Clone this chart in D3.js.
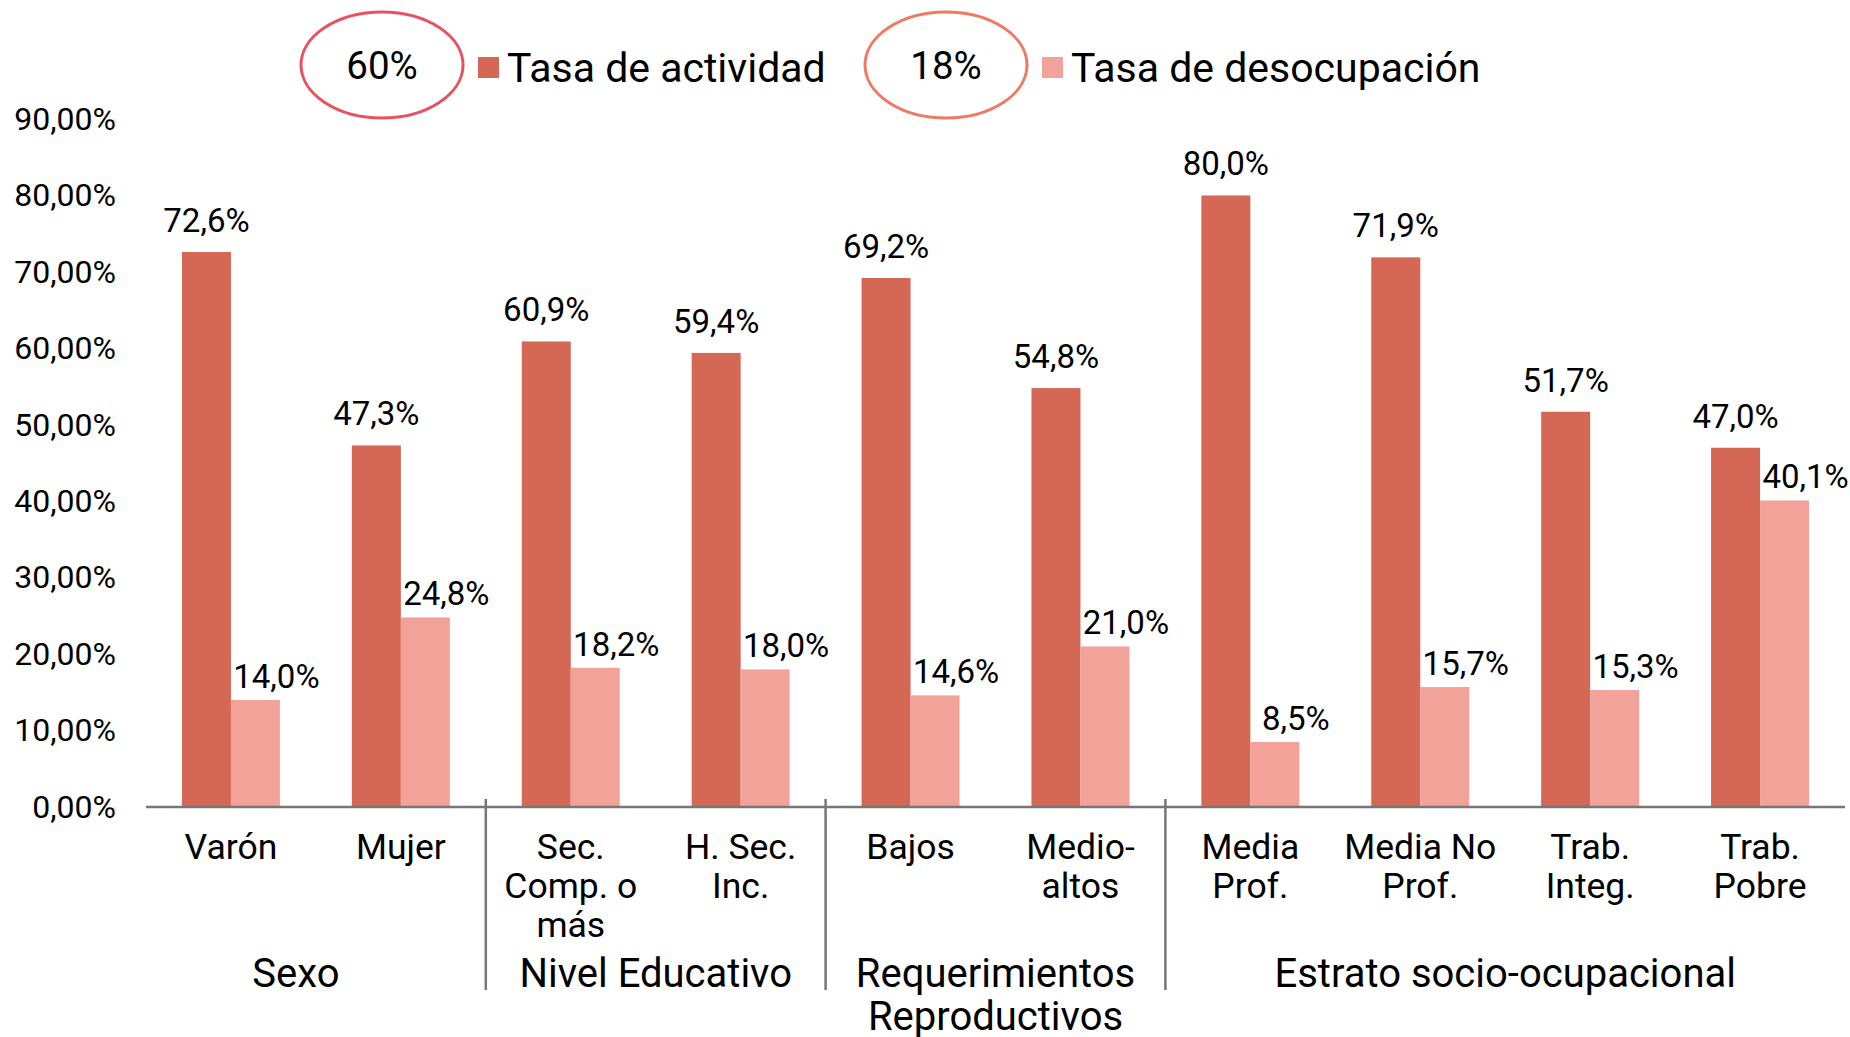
<!DOCTYPE html>
<html>
<head>
<meta charset="utf-8">
<script src="https://cdn.jsdelivr.net/npm/d3@7"></script>
<style>
  html, body { margin: 0; padding: 0; background: #fff; overflow: hidden; }
  svg { display: block; }
  svg text { font-family: "Century Gothic", "URW Gothic", "Roboto", sans-serif; fill: #000; }
</style>
</head>
<body>
<svg id="chart"></svg>
<script>
const categories = [
  ["Varón"], ["Mujer"], ["Sec.", "Comp. o", "más"], ["H. Sec.", "Inc."],
  ["Bajos"], ["Medio-", "altos"], ["Media", "Prof."], ["Media No", "Prof."],
  ["Trab.", "Integ."], ["Trab.", "Pobre"]
];
const groupNames = [["Sexo"], ["Nivel Educativo"], ["Requerimientos", "Reproductivos"], ["Estrato socio-ocupacional"]];
const groupSizes = [2, 2, 2, 4];
const seriesNames = ["Tasa de actividad", "Tasa de desocupación"];
const actividad = [72.6, 47.3, 60.9, 59.4, 69.2, 54.8, 80.0, 71.9, 51.7, 47.0];
const desocupacion = [14.0, 24.8, 18.2, 18.0, 14.6, 21.0, 8.5, 15.7, 15.3, 40.1];
const badges = ["60%", "18%"];
const yTicks = [0, 10, 20, 30, 40, 50, 60, 70, 80, 90];

const WIDTH = 1850;
const HEIGHT = 1037;
const margin = { top: 119, right: 5, bottom: 230, left: 146 };
const colors = ["#D56755", "#F3A29A"];
const badgeColors = ["#E8525E", "#EF7A64"];
const gray = "#767676";

const locale = d3.formatLocale({ decimal: ",", thousands: ".", grouping: [3], currency: ["", "€"] });
const fmtTick = locale.format(".2f");
const fmtVal = locale.format(".1f");

const svg = d3.select("#chart").attr("width", WIDTH).attr("height", HEIGHT);

const innerWidth = WIDTH - margin.left - margin.right;
const innerHeight = HEIGHT - margin.top - margin.bottom;

const chart = svg.append("g").attr("transform", `translate(${margin.left}, ${margin.top})`);

const idx = d3.range(categories.length);
const xscale = d3.scaleBand().domain(idx).range([0, innerWidth]);
const x1 = d3.scaleBand().domain([0, 1]).range([0, xscale.bandwidth()]).paddingOuter(0.734);
const yscale = d3.scaleLinear().domain([0, 90]).range([innerHeight, 0]);

// y axis: labels only
const yaxis = d3.axisLeft(yscale).tickValues(yTicks).tickSize(0).tickPadding(30)
  .tickFormat((d) => fmtTick(d) + "%");
const yaxisGroup = chart.append("g").call(yaxis);
yaxisGroup.select(".domain").remove();
yaxisGroup.selectAll("text").style("font-size", "32px").attr("fill", "#000")
  .style("font-family", null);

// bars
const rows = idx.map((i) => ({ i, values: [actividad[i], desocupacion[i]] }));
const catG = chart.selectAll(".cat").data(rows).join("g").attr("class", "cat")
  .attr("transform", (d) => `translate(${xscale(d.i)}, 0)`);

catG.selectAll("rect").data((d) => d.values.map((v, s) => ({ v, s }))).join("rect")
  .attr("x", (d) => x1(d.s))
  .attr("y", (d) => yscale(d.v))
  .attr("width", x1.bandwidth())
  .attr("height", (d) => innerHeight - yscale(d.v))
  .attr("fill", (d) => colors[d.s]);

// labels of the second series sit a bit lower and to the right, as in the source
const labelDx = [0, 21];
const labelDy = [20, 12];
catG.selectAll(".val").data((d) => d.values.map((v, s) => ({ v, s }))).join("text")
  .attr("class", "val")
  .attr("x", (d) => x1(d.s) + x1.bandwidth() / 2 + labelDx[d.s])
  .attr("y", (d) => yscale(d.v) - labelDy[d.s])
  .attr("text-anchor", "middle")
  .style("font-size", "33px")
  .text((d) => fmtVal(d.v) + "%");

// x axis line
chart.append("line")
  .attr("x1", 0).attr("x2", innerWidth)
  .attr("y1", innerHeight).attr("y2", innerHeight)
  .attr("stroke", gray).attr("stroke-width", 2.5);

// category labels
const catLabels = chart.selectAll(".catlab").data(rows).join("text")
  .attr("class", "catlab")
  .attr("text-anchor", "middle")
  .style("font-size", "35.5px")
  .attr("transform", (d) => `translate(${xscale(d.i) + xscale.bandwidth() / 2}, ${innerHeight + 52})`);
catLabels.selectAll("tspan").data((d) => categories[d.i]).join("tspan")
  .attr("x", 0).attr("dy", (d, k) => (k === 0 ? 0 : 39)).text((d) => d);

// group separators and labels
const starts = groupSizes.map((n, g) => d3.sum(groupSizes.slice(0, g)));
starts.slice(1).forEach((s) => {
  chart.append("line")
    .attr("x1", xscale(s)).attr("x2", xscale(s))
    .attr("y1", innerHeight - 8).attr("y2", innerHeight + 183)
    .attr("stroke", gray).attr("stroke-width", 2.5);
});
const grpLabels = chart.selectAll(".grplab").data(groupNames).join("text")
  .attr("class", "grplab")
  .attr("text-anchor", "middle")
  .style("font-size", "40px")
  .attr("transform", (d, g) => {
    const x0 = g === 0 ? -40 : xscale(starts[g]);
    const x2 = xscale(starts[g] + groupSizes[g] - 1) + xscale.bandwidth();
    return `translate(${(x0 + x2) / 2}, ${innerHeight + 180})`;
  });
grpLabels.selectAll("tspan").data((d) => d).join("tspan")
  .attr("x", 0).attr("dy", (d, k) => (k === 0 ? 0 : 43)).text((d) => d);

// legend
const legendX = [382, 946];
const legend = svg.selectAll(".legend").data(seriesNames).join("g").attr("class", "legend")
  .attr("transform", (d, s) => `translate(${legendX[s]}, 65)`);
legend.append("ellipse").attr("rx", 81).attr("ry", 53)
  .attr("fill", "none").attr("stroke", (d, s) => badgeColors[s]).attr("stroke-width", 3);
legend.append("text").attr("text-anchor", "middle").attr("y", 14)
  .style("font-size", "38.5px").text((d, s) => badges[s]);
legend.append("rect").attr("x", 96).attr("y", -8).attr("width", 21).attr("height", 21)
  .attr("fill", (d, s) => colors[s]);
legend.append("text").attr("x", 125).attr("y", 17)
  .style("font-size", "41px").text((d) => d);
</script>
</body>
</html>
